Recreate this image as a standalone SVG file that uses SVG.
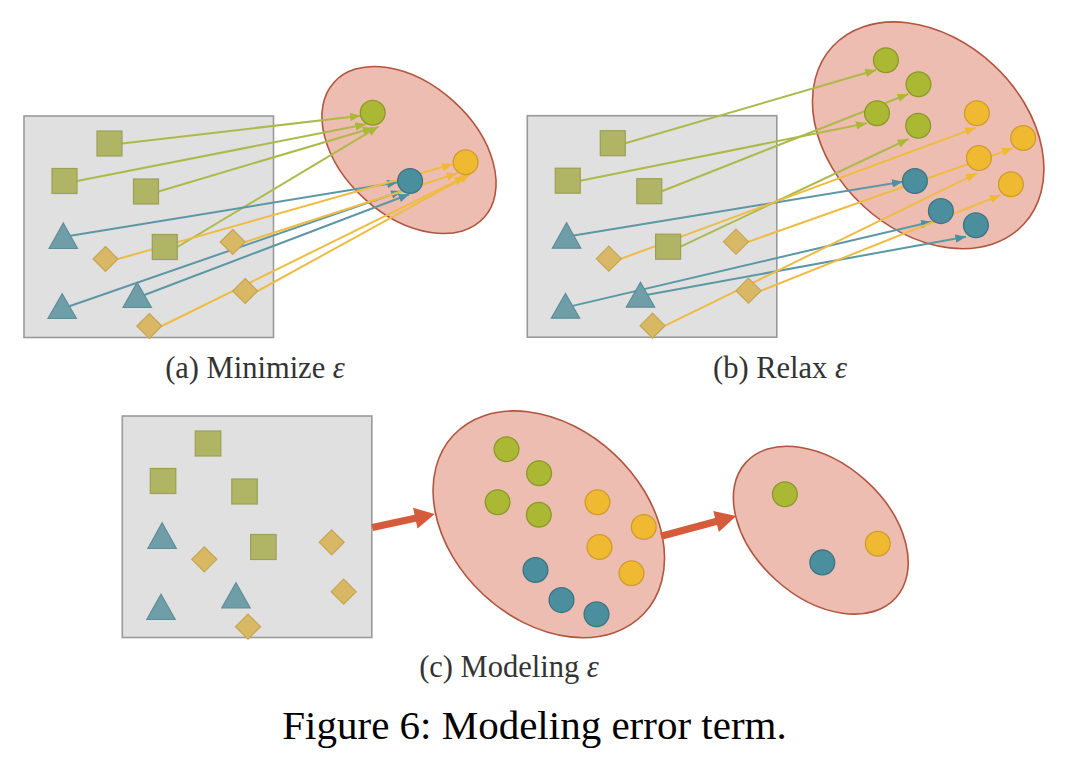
<svg xmlns="http://www.w3.org/2000/svg" width="1071" height="765" viewBox="0 0 1071 765">
<style>
.bg{fill:#ffffff}
.box{fill:#e0e0e0;stroke:#9a9a9a;stroke-width:1.6}
.sq{fill:#b0b566;stroke:#9ca055;stroke-width:1.2}
.tri{fill:#6f9ea8;stroke:#5e8d98;stroke-width:1.2}
.dia{fill:#d9b865;stroke:#c6a552;stroke-width:1.2}
.ell{fill:#edbdb1;stroke:#b0553f;stroke-width:1.6}
.cg{fill:#aab833;stroke:#8c982a;stroke-width:1.3}
.ct{fill:#4b8e9e;stroke:#3c7483;stroke-width:1.3}
.cy{fill:#f0b932;stroke:#cf9c2a;stroke-width:1.3}
.ag{fill:none;stroke:#adb94a;stroke-width:2;marker-end:url(#mg)}
.at{fill:none;stroke:#5c97a6;stroke-width:2;marker-end:url(#mt)}
.ay{fill:none;stroke:#eebc44;stroke-width:2;marker-end:url(#my)}
.big{fill:#d65a3c}
.cap{font-family:"Liberation Serif","Times New Roman",serif;font-size:30.5px;fill:#333333;text-anchor:middle}
.fig{font-family:"Liberation Serif","Times New Roman",serif;font-size:41px;fill:#000000;text-anchor:middle}
.eps{font-style:italic}
</style>
<defs>
<marker id="mg" viewBox="0 0 10 8" refX="10" refY="4" markerWidth="11" markerHeight="8.5" markerUnits="userSpaceOnUse" orient="auto"><path d="M0,0 L10,4 L0,8 z" fill="#a9b838"/></marker>
<marker id="mt" viewBox="0 0 10 8" refX="10" refY="4" markerWidth="11" markerHeight="8.5" markerUnits="userSpaceOnUse" orient="auto"><path d="M0,0 L10,4 L0,8 z" fill="#4f90a0"/></marker>
<marker id="my" viewBox="0 0 10 8" refX="10" refY="4" markerWidth="11" markerHeight="8.5" markerUnits="userSpaceOnUse" orient="auto"><path d="M0,0 L10,4 L0,8 z" fill="#f0b934"/></marker>
</defs>
<rect class="bg" x="0" y="0" width="1071" height="765"/>

<!-- background containers -->
<g id="a-box"><rect class="box" x="24" y="116" width="249.5" height="221.5"/></g>
<g id="b-box"><rect class="box" x="527.3" y="115.7" width="249.5" height="221.5"/></g>
<g id="c-box"><rect class="box" x="122.3" y="416" width="249.5" height="221.5"/></g>
<g id="a-ellipse"><ellipse class="ell" cx="0" cy="0" rx="101" ry="66" transform="translate(409,150) rotate(42)"/></g>
<g id="b-ellipse"><ellipse class="ell" cx="0" cy="0" rx="130.5" ry="96" transform="translate(928.2,135.3) rotate(43)"/></g>
<g id="c-ellipse-mid"><ellipse class="ell" cx="0" cy="0" rx="130.5" ry="96" transform="translate(548.8,524.3) rotate(43)"/></g>
<g id="c-ellipse-right"><ellipse class="ell" cx="0" cy="0" rx="101" ry="67" transform="translate(820.8,530.2) rotate(42)"/></g>

<!-- connectors -->
<g id="connectors">
  <!-- panel a -->
  <line class="ag" x1="122" y1="143.5" x2="360.7" y2="115.7"/>
  <line class="ag" x1="77" y1="181" x2="366" y2="124.3"/>
  <line class="ag" x1="158.5" y1="191.5" x2="373.3" y2="127.7"/>
  <line class="ag" x1="177.3" y1="247" x2="378.3" y2="126.7"/>
  <line class="at" x1="70.4" y1="235.7" x2="397.7" y2="182.3"/>
  <line class="at" x1="69.3" y1="306.2" x2="401.7" y2="191"/>
  <line class="at" x1="144.3" y1="295" x2="409.3" y2="194.3"/>
  <line class="ay" x1="118" y1="259" x2="452.7" y2="164.3"/>
  <line class="ay" x1="245.2" y1="242" x2="457.3" y2="173.3"/>
  <line class="ay" x1="257.7" y1="291" x2="470" y2="174.3"/>
  <line class="ay" x1="161.8" y1="326" x2="465" y2="176.7"/>
  <!-- panel b -->
  <line class="ag" x1="625.3" y1="143.2" x2="876" y2="70"/>
  <line class="ag" x1="580.3" y1="180.7" x2="866.7" y2="123.3"/>
  <line class="ag" x1="661.8" y1="191.2" x2="908.3" y2="94"/>
  <line class="ag" x1="680.6" y1="246.7" x2="908.3" y2="139"/>
  <line class="at" x1="573.7" y1="235.4" x2="902.7" y2="181.7"/>
  <line class="at" x1="572.6" y1="305.9" x2="931.7" y2="221.7"/>
  <line class="at" x1="647.6" y1="294.7" x2="966" y2="236.7"/>
  <line class="ay" x1="621.3" y1="258.7" x2="975.7" y2="127.7"/>
  <line class="ay" x1="748.5" y1="241.7" x2="1012.7" y2="148.3"/>
  <line class="ay" x1="761" y1="290.7" x2="1000.7" y2="195"/>
  <line class="ay" x1="665.1" y1="325.7" x2="976.7" y2="173.3"/>
  <!-- panel c -->
  <path class="big" transform="translate(372.3,527.5) rotate(-12.2)" d="M0,-3.6 L44,-3.6 L44,-10.6 L64,0 L44,10.6 L44,3.6 L0,3.6 z"/>
  <path class="big" transform="translate(661,536.3) rotate(-15)" d="M0,-3.6 L57,-3.6 L57,-10.8 L78,0 L57,10.8 L57,3.6 L0,3.6 z"/>
</g>

<!-- panel a shapes -->
<g transform="translate(24,116)">
  <g id="a-sq1"><rect class="sq" x="73" y="15" width="25" height="25"/></g>
  <g id="a-sq2"><rect class="sq" x="28" y="52.5" width="25" height="25"/></g>
  <g id="a-sq3"><rect class="sq" x="109.5" y="63" width="25" height="25"/></g>
  <g id="a-sq4"><rect class="sq" x="128.3" y="118.5" width="25" height="25"/></g>
  <g id="a-tri1"><polygon class="tri" points="39.3,107 53.5,132.5 25.1,132.5"/></g>
  <g id="a-tri2"><polygon class="tri" points="38.2,177.8 52.4,202.5 24,202.5"/></g>
  <g id="a-tri3"><polygon class="tri" points="113.2,166.5 127.4,191.5 99,191.5"/></g>
  <g id="a-dia1"><polygon class="dia" points="81.5,130.5 94,143 81.5,155.5 69,143"/></g>
  <g id="a-dia2"><polygon class="dia" points="208.7,113.5 221.2,126 208.7,138.5 196.2,126"/></g>
  <g id="a-dia3"><polygon class="dia" points="221.2,162.5 233.7,175 221.2,187.5 208.7,175"/></g>
  <g id="a-dia4"><polygon class="dia" points="125.3,197.5 137.8,210 125.3,222.5 112.8,210"/></g>
</g>
<g id="a-cg"><circle class="cg" cx="372.7" cy="112.8" r="12.4"/></g>
<g id="a-ct"><circle class="ct" cx="410.1" cy="181" r="12.4"/></g>
<g id="a-cy"><circle class="cy" cx="465.6" cy="162.3" r="12.4"/></g>

<!-- panel b shapes -->
<g transform="translate(527.3,115.7)">
  <g id="b-sq1"><rect class="sq" x="73" y="15" width="25" height="25"/></g>
  <g id="b-sq2"><rect class="sq" x="28" y="52.5" width="25" height="25"/></g>
  <g id="b-sq3"><rect class="sq" x="109.5" y="63" width="25" height="25"/></g>
  <g id="b-sq4"><rect class="sq" x="128.3" y="118.5" width="25" height="25"/></g>
  <g id="b-tri1"><polygon class="tri" points="39.3,107 53.5,132.5 25.1,132.5"/></g>
  <g id="b-tri2"><polygon class="tri" points="38.2,177.8 52.4,202.5 24,202.5"/></g>
  <g id="b-tri3"><polygon class="tri" points="113.2,166.5 127.4,191.5 99,191.5"/></g>
  <g id="b-dia1"><polygon class="dia" points="81.5,130.5 94,143 81.5,155.5 69,143"/></g>
  <g id="b-dia2"><polygon class="dia" points="208.7,113.5 221.2,126 208.7,138.5 196.2,126"/></g>
  <g id="b-dia3"><polygon class="dia" points="221.2,162.5 233.7,175 221.2,187.5 208.7,175"/></g>
  <g id="b-dia4"><polygon class="dia" points="125.3,197.5 137.8,210 125.3,222.5 112.8,210"/></g>
</g>
<g id="b-cg1"><circle class="cg" cx="885.9" cy="60.2" r="12.4"/></g>
<g id="b-cg2"><circle class="cg" cx="918.5" cy="84.2" r="12.4"/></g>
<g id="b-cg3"><circle class="cg" cx="877" cy="113.2" r="12.4"/></g>
<g id="b-cg4"><circle class="cg" cx="918.2" cy="125.8" r="12.4"/></g>
<g id="b-cy1"><circle class="cy" cx="976.9" cy="113.3" r="12.4"/></g>
<g id="b-cy2"><circle class="cy" cx="1023.2" cy="138" r="12.4"/></g>
<g id="b-cy3"><circle class="cy" cx="978.9" cy="158" r="12.4"/></g>
<g id="b-cy4"><circle class="cy" cx="1010.9" cy="184.3" r="12.4"/></g>
<g id="b-ct1"><circle class="ct" cx="914.9" cy="181" r="12.4"/></g>
<g id="b-ct2"><circle class="ct" cx="940.9" cy="211.1" r="12.4"/></g>
<g id="b-ct3"><circle class="ct" cx="975.9" cy="225.3" r="12.4"/></g>

<!-- panel c shapes -->
<g transform="translate(122.3,416)">
  <g id="c-sq1"><rect class="sq" x="73" y="15" width="25.5" height="25"/></g>
  <g id="c-sq2"><rect class="sq" x="28" y="52.5" width="25.5" height="25"/></g>
  <g id="c-sq3"><rect class="sq" x="109.5" y="63" width="25.5" height="25"/></g>
  <g id="c-sq4"><rect class="sq" x="128.3" y="118.5" width="25.5" height="25"/></g>
  <g id="c-tri1"><polygon class="tri" points="39.8,106.7 54,132.5 25.6,132.5"/></g>
  <g id="c-tri2"><polygon class="tri" points="38.7,178.3 52.9,203.5 24.5,203.5"/></g>
  <g id="c-tri3"><polygon class="tri" points="113.7,166.7 127.9,192 99.5,192"/></g>
  <g id="c-dia1"><polygon class="dia" points="82,130.8 94.5,143.3 82,155.8 69.5,143.3"/></g>
  <g id="c-dia2"><polygon class="dia" points="209.4,113.8 221.9,126.3 209.4,138.8 196.9,126.3"/></g>
  <g id="c-dia3"><polygon class="dia" points="221.4,163.2 233.9,175.7 221.4,188.2 208.9,175.7"/></g>
  <g id="c-dia4"><polygon class="dia" points="125.7,198.2 138.2,210.7 125.7,223.2 113.2,210.7"/></g>
</g>
<g id="c-cg1"><circle class="cg" cx="506.5" cy="449.2" r="12.4"/></g>
<g id="c-cg2"><circle class="cg" cx="539.1" cy="473.2" r="12.4"/></g>
<g id="c-cg3"><circle class="cg" cx="497.6" cy="502.2" r="12.4"/></g>
<g id="c-cg4"><circle class="cg" cx="538.8" cy="514.8" r="12.4"/></g>
<g id="c-cy1"><circle class="cy" cx="597.5" cy="502.3" r="12.4"/></g>
<g id="c-cy2"><circle class="cy" cx="643.8" cy="527" r="12.4"/></g>
<g id="c-cy3"><circle class="cy" cx="599.5" cy="547" r="12.4"/></g>
<g id="c-cy4"><circle class="cy" cx="631.5" cy="573.3" r="12.4"/></g>
<g id="c-ct1"><circle class="ct" cx="535.5" cy="570" r="12.4"/></g>
<g id="c-ct2"><circle class="ct" cx="561.5" cy="600.1" r="12.4"/></g>
<g id="c-ct3"><circle class="ct" cx="596.5" cy="614.3" r="12.4"/></g>
<g id="c-rcg"><circle class="cg" cx="784.9" cy="494.2" r="12.4"/></g>
<g id="c-rct"><circle class="ct" cx="822.3" cy="562.4" r="12.4"/></g>
<g id="c-rcy"><circle class="cy" cx="877.8" cy="543.7" r="12.4"/></g>

<!-- captions -->
<g id="captions">
  <text class="cap" x="255" y="378">(a) Minimize <tspan class="eps">ε</tspan></text>
  <text class="cap" x="780" y="378">(b) Relax <tspan class="eps">ε</tspan></text>
  <text class="cap" x="509" y="677">(c) Modeling <tspan class="eps">ε</tspan></text>
  <text class="fig" x="534.5" y="739">Figure 6: Modeling error term.</text>
</g>
</svg>
